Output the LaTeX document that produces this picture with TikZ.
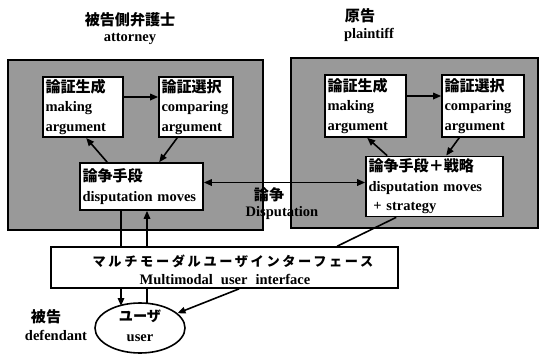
\documentclass[tikz,border=0pt]{standalone}
\usepackage{fontspec}
\setmainfont{Liberation Serif}
\newfontfamily\jpb[Scale=1.04]{Noto Sans CJK JP Bold}
\newfontfamily\jpm[Scale=0.98]{Noto Sans CJK JP Medium}
\newfontfamily\jpls[Scale=0.91,LetterSpace=20]{Noto Sans CJK JP Medium}
\usetikzlibrary{arrows.meta,shapes.geometric}
\tikzset{
  graybox/.style={draw, line width=1.6pt, fill=black!40, inner sep=0pt},
  tbox/.style={draw, fill=white, line width=1.6pt, align=left, inner sep=2.5pt,
    font=\bfseries\fontsize{14.5}{19.5}\selectfont},
  lbl/.style={align=center, inner sep=0pt, font=\bfseries\fontsize{14.5}{18}\selectfont},
  ln/.style={line width=1.6pt},
  arr/.style={line width=1.6pt, -{Triangle[length=8pt,width=6.5pt]}},
  darr/.style={line width=1.6pt, {Triangle[length=8pt,width=6.5pt]}-{Triangle[length=8pt,width=6.5pt]}}
}
\begin{document}
\begin{tikzpicture}[x=1pt,y=-1pt]
\useasboundingbox (0,0) rectangle (542,354);
% gray containers
\node[graybox, minimum width=255pt, minimum height=170pt] (LG) at (135.5,145) {};
\node[graybox, minimum width=247pt, minimum height=170pt] (RG) at (414.5,143) {};
% titles
\node[lbl] (tL1) at (130,20) {\jpb 被告側弁護士};
\node[lbl] (tL2) at (130,39) {attorney};
\node[lbl] (tR1) at (360,16) {\jpb 原告};
\node[lbl] (tR2) at (369,35) {plaintiff};
% left boxes
\node[tbox, text width=75pt, minimum height=60pt] (LGen) at (83,107) {{\jpb 論証生成}\\making\\argument};
\node[tbox, text width=69pt, minimum height=60pt] (LSel) at (196,107) {{\jpb 論証選択}\\comparing\\argument};
\node[tbox, text width=118pt, minimum height=47pt] (LMov) at (141.5,186.5) {{\jpb 論争手段}\\disputation moves};
% right boxes
\node[tbox, text width=76pt, minimum height=62pt] (RGen) at (365.5,106) {{\jpb 論証生成}\\making\\argument};
\node[tbox, text width=77pt, minimum height=62pt] (RSel) at (483,106) {{\jpb 論証選択}\\comparing\\argument};
\node[tbox, text width=132pt, minimum height=57pt] (RMov) at (434.5,186.5) {{\jpb 論争手段＋戦略}\\disputation moves\\\ + strategy};
% interface
\node[draw, fill=white, line width=1.6pt, minimum width=347pt, minimum height=41pt, inner sep=0pt] (UI) at (224.5,267.5) {};
\node[lbl] (UIj) at (233,261) {\jpls マルチモーダルユーザインターフェース};
\node[lbl] (UIe) at (225,279) {Multimodal\hspace{8pt}user\hspace{8pt}interface};
% user
\node[draw, ellipse, line width=1.6pt, fill=white, minimum width=90pt, minimum height=50pt, inner sep=0pt] (User) at (140,328) {};
\node[lbl] (Uj) at (140,316) {\jpm ユーザ};
\node[lbl] (Ue) at (140,338) {user};
\node[lbl] (Dj) at (46,317) {\jpb 被告};
\node[lbl] (De) at (56,335) {defendant};
% disputation label
\node[lbl] (Pj) at (269,195) {\jpb 論争};
\node[lbl] (Pe) at (282,213) {Disputation};
% arrows inside left
\draw[arr] ([yshift=10pt]LGen.east) -- ([yshift=10pt]LSel.west);
\draw[arr] ([xshift=28pt]LMov.north west) -- ([xshift=44pt]LGen.south west);
\draw[arr] ([xshift=19pt]LSel.south west) -- ([xshift=80pt]LMov.north west);
% arrows inside right
\draw[arr] ([yshift=10pt]RGen.east) -- ([yshift=10pt]RSel.west);
\draw[arr] ([xshift=22pt]RMov.north west) -- ([xshift=43pt]RGen.south west);
\draw[arr] ([xshift=18pt]RSel.south west) -- ([xshift=81pt]RMov.north west);
% disputation
\draw[darr] ([yshift=4pt]LMov.east) -- ([yshift=4pt]RMov.west);
% vertical links
\coordinate (a1) at (121,0);
\coordinate (a2) at (147,0);
\coordinate (u1) at (121,306);
\coordinate (u2) at (147,304);
\draw[ln] (LMov.south -| a1) -- (UI.north -| a1);
\draw[arr] (UI.north -| a2) -- (LMov.south -| a2);
\draw[arr] (UI.south -| a1) -- (u1);
\draw[ln] (u2) -- (UI.south -| a2);
% right links
\draw[ln] ([xshift=31pt]RMov.south west) -- ([xshift=287pt]UI.north west);
\draw[arr] ([xshift=189pt]UI.south west) -- (User);
\end{tikzpicture}
\end{document}
